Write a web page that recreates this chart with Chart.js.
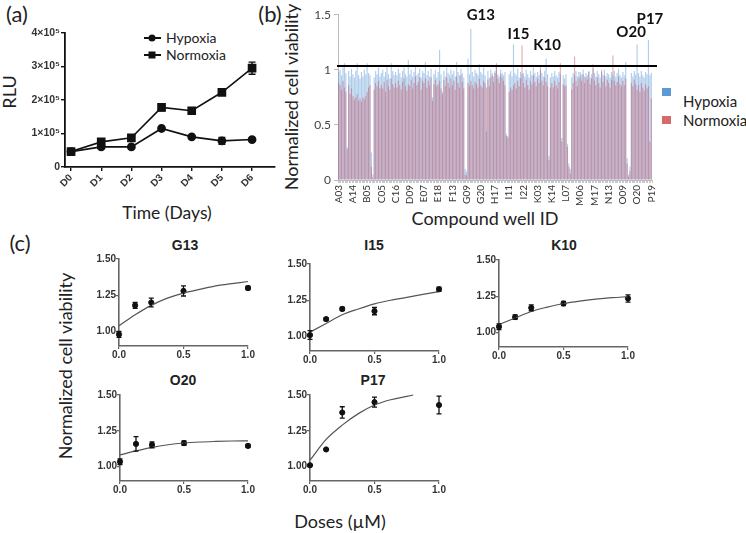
<!DOCTYPE html>
<html>
<head>
<meta charset="utf-8">
<script src="https://cdn.jsdelivr.net/npm/chart.js@4.4.0/dist/chart.umd.min.js"></script>
<style>
  body { margin: 0; width: 746px; height: 533px; background: #fff; position: relative; overflow: hidden; font-family: Lato, sans-serif; color: #222; }
  canvas { position: absolute; }
  .t { position: absolute; white-space: nowrap; transform: translate(-50%, -50%); line-height: 1; }
  .r { transform: translate(-50%, -50%) rotate(-90deg); }
  .ttl { font-family: "Liberation Sans", Arial, sans-serif; font-weight: bold; font-size: 14px; color: #222; }
  .sq { position: absolute; width: 9px; height: 8px; }
  .lg { position: absolute; width: 17px; height: 1.6px; background: #111; }
  .mk { position: absolute; background: #111; transform: translate(-50%, -50%); }
</style>
</head>
<body>

<!-- panel labels and axis titles -->
<div class="t" style="left:17px;top:14px;font-size:22px">(a)</div>
<div class="t" style="left:270px;top:14px;font-size:22px">(b)</div>
<div class="t" style="left:20px;top:243px;font-size:22px">(c)</div>

<div class="t r" style="left:9px;top:92px;font-size:18px">RLU</div>
<div class="t" style="left:167px;top:213px;font-size:17.5px">Time (Days)</div>
<div class="t r" style="left:291px;top:97px;font-size:18px">Normalized cell viability</div>
<div class="t" style="left:485px;top:218px;font-size:18px">Compound well ID</div>
<div class="t r" style="left:65px;top:366px;font-size:18px">Normalized cell viability</div>
<div class="t" style="left:340px;top:521px;font-size:18px">Doses (µM)</div>

<!-- legend (a) -->
<div class="lg" style="left:144px;top:37px"></div>
<div class="mk" style="left:152px;top:38px;width:7px;height:7px;border-radius:50%"></div>
<div class="t" style="top:38px;font-size:14px;transform:translate(0,-50%);left:166px">Hypoxia</div>
<div class="lg" style="left:144px;top:54px"></div>
<div class="mk" style="left:152px;top:55px;width:7px;height:7px"></div>
<div class="t" style="top:55px;font-size:14px;transform:translate(0,-50%);left:166px">Normoxia</div>

<!-- legend (b) -->
<div class="sq" style="left:662px;top:88px;background:#5b9bd5"></div>
<div class="t" style="left:683px;top:101px;font-size:15px;transform:translate(0,-50%)">Hypoxia</div>
<div class="sq" style="left:662px;top:116px;background:#d46a6a"></div>
<div class="t" style="left:683px;top:120px;font-size:15px;transform:translate(0,-50%)">Normoxia</div>

<!-- dose panel titles -->
<div class="t ttl" style="left:185px;top:245px">G13</div>
<div class="t ttl" style="left:374px;top:245px">I15</div>
<div class="t ttl" style="left:564px;top:245px">K10</div>
<div class="t ttl" style="left:183px;top:380px">O20</div>
<div class="t ttl" style="left:373px;top:380px">P17</div>

<canvas id="chartA" style="left:0px;top:0px" width="290" height="225"></canvas>
<canvas id="chartB" style="left:280px;top:0px" width="390" height="225"></canvas>
<canvas id="g13" style="left:80px;top:249px" width="185" height="117"></canvas>
<canvas id="i15" style="left:271px;top:254px" width="185" height="117"></canvas>
<canvas id="k10" style="left:460px;top:250px" width="185" height="117"></canvas>
<canvas id="o20" style="left:81px;top:385px" width="184" height="116"></canvas>
<canvas id="p17" style="left:271px;top:385px" width="185" height="116"></canvas>

<script>
// ---- (a) luciferase growth ----
const days = ['D0', 'D1', 'D2', 'D3', 'D4', 'D5', 'D6'];
const hypoxiaRLU = [46000, 60000, 60000, 115000, 90000, 78000, 82000];
const hypoxiaErr = [3000, 4000, 3000, 4000, 3000, 10000, 3000];
const normoxiaRLU = [46000, 75000, 87000, 178000, 168000, 223000, 295000];
const normoxiaErr = [3000, 5000, 4000, 10000, 4000, 9000, 18000];
const rluTicks = [0, 100000, 200000, 300000, 400000];

// ---- (b) screen ----
const wellTicks = ['A03', 'A14', 'B05', 'C05', 'C16', 'D09', 'E07', 'E18', 'F13', 'G09', 'G20',
  'H17', 'I11', 'I22', 'K03', 'K14', 'L07', 'M06', 'M17', 'N13', 'O09', 'O20', 'P19'];
const hypoxiaViab = [
  0.98, 1.00, 0.95, 1.02, 1.06, 0.97, 0.30, 0.99, 0.94, 1.01,
  0.96, 0.93, 0.99, 1.06, 0.95, 0.92, 0.98, 0.94, 1.00, 0.96,
  1.06, 0.97, 0.95, 0.25, 0.05, 0.93, 0.99, 0.96, 1.02, 0.94,
  0.97, 1.00, 0.94, 0.98, 1.03, 0.96, 0.92, 1.06, 0.99, 0.95,
  0.98, 0.95, 1.01, 0.97, 0.93, 0.99, 1.02, 0.96, 0.94, 1.09,
  0.96, 1.00, 0.94, 0.98, 1.03, 0.95, 0.97, 1.01, 0.93, 0.99,
  0.97, 1.07, 0.95, 0.99, 0.94, 1.01, 0.75, 0.96, 1.00, 0.93,
  0.98, 1.18, 0.96, 0.80, 0.99, 0.94, 1.02, 0.97, 0.95, 1.00,
  0.96, 0.99, 0.94, 1.07, 0.98, 0.95, 1.01, 0.97, 0.93, 0.10,
  0.08, 1.10, 0.96, 1.37, 0.98, 0.94, 1.00, 0.97, 0.95, 1.05,
  0.98, 0.96, 1.02, 0.95, 0.44, 0.99, 0.93, 1.00, 0.97, 0.94,
  0.99, 1.03, 0.96, 0.94, 1.00, 0.97, 0.95, 0.98, 0.42, 0.40,
  0.96, 0.99, 0.94, 1.23, 0.97, 0.95, 1.01, 0.93, 0.98, 0.96,
  0.97, 0.94, 1.00, 0.96, 0.93, 0.99, 0.95, 1.02, 0.97, 0.94,
  0.98, 0.95, 1.03, 0.97, 0.94, 0.99, 1.10, 0.96, 0.22, 0.93,
  0.97, 0.94, 0.99, 0.95, 0.93, 0.98, 0.96, 0.38, 0.95, 0.92,
  0.96, 0.33, 0.15, 0.10, 0.93, 0.97, 0.95, 0.99, 0.94, 0.98,
  0.98, 0.96, 1.00, 0.94, 0.97, 0.95, 0.99, 0.93, 0.96, 1.01,
  0.97, 0.94, 0.99, 0.96, 0.93, 0.98, 0.95, 1.00, 0.94, 0.97,
  0.96, 0.93, 0.98, 0.95, 0.99, 0.94, 0.97, 1.01, 0.95, 0.93,
  0.98, 0.95, 1.07, 0.20, 0.05, 0.12, 0.97, 0.94, 0.99, 0.96,
  1.23, 0.97, 0.94, 0.99, 0.95, 0.93, 0.98, 0.96, 1.27, 0.95,
  0.97
];
const normoxiaViab = [
  0.88, 0.86, 0.82, 0.90, 0.84, 0.80, 0.28, 0.86, 0.78, 0.83,
  0.76, 0.73, 0.75, 0.78, 0.72, 0.74, 0.71, 0.75, 0.73, 0.76,
  0.80, 0.84, 0.86, 0.12, 0.02, 0.82, 0.88, 0.85, 0.90, 0.83,
  0.86, 0.83, 0.89, 0.80, 0.91, 0.85, 0.82, 0.92, 0.87, 0.84,
  0.88, 0.84, 0.90, 0.86, 0.82, 0.89, 0.92, 0.85, 0.81, 0.87,
  0.85, 0.91, 0.83, 0.88, 0.94, 0.86, 0.89, 0.93, 0.82, 0.90,
  0.88, 0.92, 0.84, 0.90, 0.86, 0.93, 0.72, 0.87, 0.91, 0.85,
  0.87, 0.90, 0.83, 0.78, 0.91, 0.85, 0.93, 0.88, 0.84, 0.92,
  0.86, 0.90, 0.82, 0.94, 0.88, 0.84, 0.95, 0.89, 0.83, 0.05,
  0.04, 0.88, 0.85, 0.90, 0.86, 0.83, 0.89, 0.87, 0.84, 0.92,
  0.86, 0.84, 0.90, 0.88, 0.84, 0.91, 0.85, 0.93, 0.95, 0.89,
  0.97, 1.06, 0.92, 0.88, 0.96, 0.93, 0.90, 0.86, 0.40, 0.38,
  0.80, 0.84, 0.82, 0.86, 0.88, 0.83, 0.90, 0.85, 0.92, 1.22,
  0.88, 0.84, 0.91, 0.86, 0.82, 0.90, 0.87, 0.95, 0.89, 0.85,
  0.92, 0.88, 1.00, 0.90, 0.86, 0.93, 0.89, 0.85, 0.18, 0.84,
  0.88, 0.84, 0.90, 0.86, 0.83, 0.89, 1.06, 0.35, 0.87, 0.85,
  0.86, 0.30, 0.12, 0.06, 0.82, 0.88, 1.12, 0.90, 0.85, 0.92,
  0.94, 0.90, 0.96, 0.88, 0.93, 0.91, 0.98, 0.87, 0.92, 1.05,
  0.90, 0.86, 0.93, 0.88, 0.84, 1.00, 0.89, 0.95, 0.85, 0.91,
  0.88, 0.84, 0.91, 1.13, 0.90, 0.86, 0.89, 0.94, 0.87, 0.85,
  0.90, 0.86, 0.92, 0.15, 0.03, 0.08, 0.88, 0.85, 0.91, 0.87,
  0.82, 0.86, 0.80, 0.88, 0.84, 0.81, 0.87, 0.83, 0.85, 0.35,
  0.74
];
const hitWells = ['G13', 'I15', 'K10', 'O20', 'P17'];
const hitCutoff = 1.035;

// ---- (c) dose response ----
const doses = [0, 0.125, 0.25, 0.5, 1];
const fitDoses = [0, 0.125, 0.25, 0.375, 0.5, 0.625, 0.75, 0.875, 1];
const g13Mean = [0.98, 1.18, 1.20, 1.28, 1.30];
const g13Err = [0.02, 0.02, 0.03, 0.035, 0.012];
const g13Fit = [1.04, 1.115, 1.18, 1.23, 1.265, 1.29, 1.315, 1.33, 1.345];
const i15Mean = [1.01, 1.12, 1.19, 1.175, 1.326];
const i15Err = [0.03, 0.01, 0.012, 0.025, 0.015];
const i15Fit = [1.03, 1.09, 1.15, 1.19, 1.225, 1.25, 1.27, 1.29, 1.31];
const k10Mean = [1.04, 1.106, 1.17, 1.20, 1.235];
const k10Err = [0.02, 0.015, 0.02, 0.015, 0.025];
const k10Fit = [1.055, 1.10, 1.145, 1.175, 1.20, 1.217, 1.23, 1.24, 1.247];
const o20Mean = [1.035, 1.159, 1.152, 1.164, 1.145];
const o20Err = [0.02, 0.05, 0.02, 0.015, 0.01];
const o20Fit = [1.082, 1.11, 1.135, 1.153, 1.165, 1.172, 1.176, 1.179, 1.18];
const p17Mean = [1.01, 1.12, 1.378, 1.45, 1.43];
const p17Err = [0.005, 0.005, 0.04, 0.035, 0.062];
const p17FitDoses = [0, 0.125, 0.25, 0.375, 0.5, 0.625, 0.75, 0.8];
const p17Fit = [1.045, 1.19, 1.29, 1.37, 1.43, 1.467, 1.49, 1.50];
const doseTicks = [0, 0.5, 1];
const viabTicks = [1, 1.25, 1.5];

Chart.defaults.animation = false;
Chart.defaults.devicePixelRatio = 1;
Chart.defaults.font.family = 'Lato, sans-serif';
Chart.defaults.plugins.legend.display = false;
Chart.defaults.plugins.tooltip.enabled = false;

// well ids between labelled ticks, counted back from the next tick on a 16 x 20 plate
const plateRows = 'ABCDEFGHIJKLMNOP';
function stepBack(id, n) {
  const k = plateRows.indexOf(id[0]) * 20 + (+id.slice(1) - 3) - n;
  return plateRows[Math.floor(k / 20)] + String(k % 20 + 3).padStart(2, '0');
}
const wells = [];
wellTicks.forEach((w, i) => {
  wells.push(w);
  const next = wellTicks[i + 1];
  if (next) for (let j = 9; j >= 1; j--) wells.push(stepBack(next, j));
});

const errorBars = {
  id: 'errorBars',
  afterDatasetsDraw(chart, args, opts) {
    const { ctx, scales: { x, y } } = chart;
    ctx.save();
    ctx.strokeStyle = '#111';
    ctx.lineWidth = opts.width || 1.2;
    chart.data.datasets.forEach(ds => {
      if (!ds.errs) return;
      ds.data.forEach((p, i) => {
        const e = ds.errs[i];
        if (!e) return;
        const px = x.getPixelForValue(p.x);
        const top = y.getPixelForValue(p.y + e);
        const bot = y.getPixelForValue(p.y - e);
        const cap = opts.cap || 3;
        ctx.beginPath();
        ctx.moveTo(px, top); ctx.lineTo(px, bot);
        ctx.moveTo(px - cap, top); ctx.lineTo(px + cap, top);
        ctx.moveTo(px - cap, bot); ctx.lineTo(px + cap, bot);
        ctx.stroke();
      });
    });
    ctx.restore();
  }
};

function fixWidth(w) { return s => { s.width = w; }; }
function fixHeight(h) { return s => { s.height = h; }; }

// (a)
new Chart('chartA', {
  type: 'line',
  data: {
    datasets: [
      {
        label: 'Hypoxia',
        data: hypoxiaRLU.map((v, i) => ({ x: i, y: v })),
        errs: hypoxiaErr,
        borderColor: '#111', backgroundColor: '#111', borderWidth: 1.6,
        pointStyle: 'circle', pointRadius: 3.6
      },
      {
        label: 'Normoxia',
        data: normoxiaRLU.map((v, i) => ({ x: i, y: v })),
        errs: normoxiaErr,
        borderColor: '#111', backgroundColor: '#111', borderWidth: 1.6,
        pointStyle: 'rect', pointRadius: 5
      }
    ]
  },
  options: {
    responsive: false,
    layout: { padding: { top: 33, right: 15, left: 0, bottom: 0 } },
    plugins: { errorBars: { cap: 3.5, width: 1.4 } },
    scales: {
      x: {
        type: 'linear', min: -0.2, max: 6.76,
        afterBuildTicks: s => { s.ticks = days.map((d, i) => ({ value: i })); },
        afterFit: fixHeight(58),
        border: { color: '#111', width: 1.8 },
        grid: { drawOnChartArea: false, tickLength: 4, color: '#111', lineWidth: 1.4 },
        ticks: {
          minRotation: 45, maxRotation: 45, padding: 1, color: '#333',
          font: { family: '"Liberation Sans", Arial, sans-serif', size: 10, weight: 'bold' },
          callback: v => days[v]
        }
      },
      y: {
        min: 0, max: 400000,
        afterBuildTicks: s => { s.ticks = rluTicks.map(v => ({ value: v })); },
        afterFit: fixWidth(65),
        border: { color: '#111', width: 1.8 },
        grid: { drawOnChartArea: false, tickLength: 4, color: '#111', lineWidth: 1.4 },
        ticks: {
          padding: 1, color: '#333',
          font: { family: '"Liberation Sans", Arial, sans-serif', size: 10.5, weight: 'bold' },
          callback: v => v === 0 ? '0' : (v / 100000) + '×10⁵'
        }
      }
    }
  },
  plugins: [errorBars]
});

// (b)
const hitLabels = {
  id: 'hitLabels',
  afterDatasetsDraw(chart) {
    const { ctx, chartArea, scales: { x, y } } = chart;
    ctx.save();
    ctx.strokeStyle = '#000';
    ctx.lineWidth = 2;
    const yl = y.getPixelForValue(hitCutoff);
    ctx.beginPath();
    ctx.moveTo(chartArea.left - 1, yl);
    ctx.lineTo(chartArea.right + 5, yl);
    ctx.stroke();
    const shift = [[10, -14], [5, -10], [1, -14], [-6, -12], [1.5, -21]];
    ctx.fillStyle = '#111';
    ctx.font = 'bold 15px Lato, sans-serif';
    ctx.textAlign = 'center';
    ctx.textBaseline = 'middle';
    hitWells.forEach((w, k) => {
      const i = wells.indexOf(w);
      const v = Math.max(hypoxiaViab[i], normoxiaViab[i]);
      ctx.fillText(w, x.getPixelForValue(i) + shift[k][0], y.getPixelForValue(v) + shift[k][1]);
    });
    ctx.restore();
  }
};

new Chart('chartB', {
  type: 'bar',
  data: {
    labels: wells,
    datasets: [
      { label: 'Normoxia', data: normoxiaViab, backgroundColor: 'rgba(196,92,112,0.5)', grouped: false, order: 1 },
      { label: 'Hypoxia', data: hypoxiaViab, backgroundColor: 'rgba(95,155,215,0.5)', grouped: false, order: 2 }
    ]
  },
  options: {
    responsive: false,
    layout: { padding: { top: 14.7, right: 18, left: 0, bottom: 0 } },
    datasets: { bar: { barPercentage: 0.8, categoryPercentage: 1 } },
    scales: {
      x: {
        afterFit: fixHeight(45),
        border: { color: '#bbb', width: 1 },
        grid: { drawOnChartArea: false, tickLength: 3, color: '#c8c8c8' },
        ticks: {
          autoSkip: false, minRotation: 90, maxRotation: 90, padding: 2, color: '#333',
          font: { size: 10 },
          callback: (v, i) => wellTicks.includes(wells[i]) ? wells[i] : ''
        }
      },
      y: {
        min: 0, max: 1.5,
        ticks: { stepSize: 0.5, color: '#444', font: { size: 12 }, padding: 3, callback: v => String(v) },
        afterFit: fixWidth(58),
        border: { color: '#bbb', width: 1 },
        grid: { drawOnChartArea: false, tickLength: 4, color: '#bbb' }
      }
    }
  },
  plugins: [hitLabels]
});

// (c)
function doseChart(id, means, errs, fitX, fitY) {
  const axisFont = { family: '"Liberation Sans", Arial, sans-serif', size: 10, weight: 'bold' };
  return new Chart(id, {
    type: 'scatter',
    data: {
      datasets: [
        {
          data: fitX.map((d, i) => ({ x: d, y: fitY[i] })),
          showLine: true, borderColor: '#555', borderWidth: 1.2, pointRadius: 0,
          cubicInterpolationMode: 'monotone', clip: false
        },
        {
          data: doses.map((d, i) => ({ x: d, y: means[i] })),
          errs: errs, pointRadius: 2.6, backgroundColor: '#111', borderColor: '#111', clip: false
        }
      ]
    },
    options: {
      responsive: false,
      layout: { padding: { top: 10, right: 17, left: 0, bottom: 0 } },
      plugins: { errorBars: { cap: 2.5, width: 1.3 } },
      scales: {
        x: {
          min: 0, max: 1,
          afterBuildTicks: s => { s.ticks = doseTicks.map(v => ({ value: v })); },
          afterFit: fixHeight(20),
          border: { color: '#666', width: 1.6 },
          grid: { drawOnChartArea: false, tickLength: 3, color: '#666', lineWidth: 1.2 },
          ticks: { padding: 0, color: '#333', font: axisFont, maxRotation: 0, callback: v => v.toFixed(1) }
        },
        y: {
          min: 0.9, max: 1.5,
          afterBuildTicks: s => { s.ticks = viabTicks.map(v => ({ value: v })); },
          afterFit: fixWidth(39),
          border: { color: '#666', width: 1.6 },
          grid: { drawOnChartArea: false, tickLength: 3, color: '#666', lineWidth: 1.2 },
          ticks: { padding: 0, color: '#333', font: axisFont, callback: v => v.toFixed(2) }
        }
      }
    },
    plugins: [errorBars]
  });
}

doseChart('g13', g13Mean, g13Err, fitDoses, g13Fit);
doseChart('i15', i15Mean, i15Err, fitDoses, i15Fit);
doseChart('k10', k10Mean, k10Err, fitDoses, k10Fit);
doseChart('o20', o20Mean, o20Err, fitDoses, o20Fit);
doseChart('p17', p17Mean, p17Err, p17FitDoses, p17Fit);
</script>
</body>
</html>
